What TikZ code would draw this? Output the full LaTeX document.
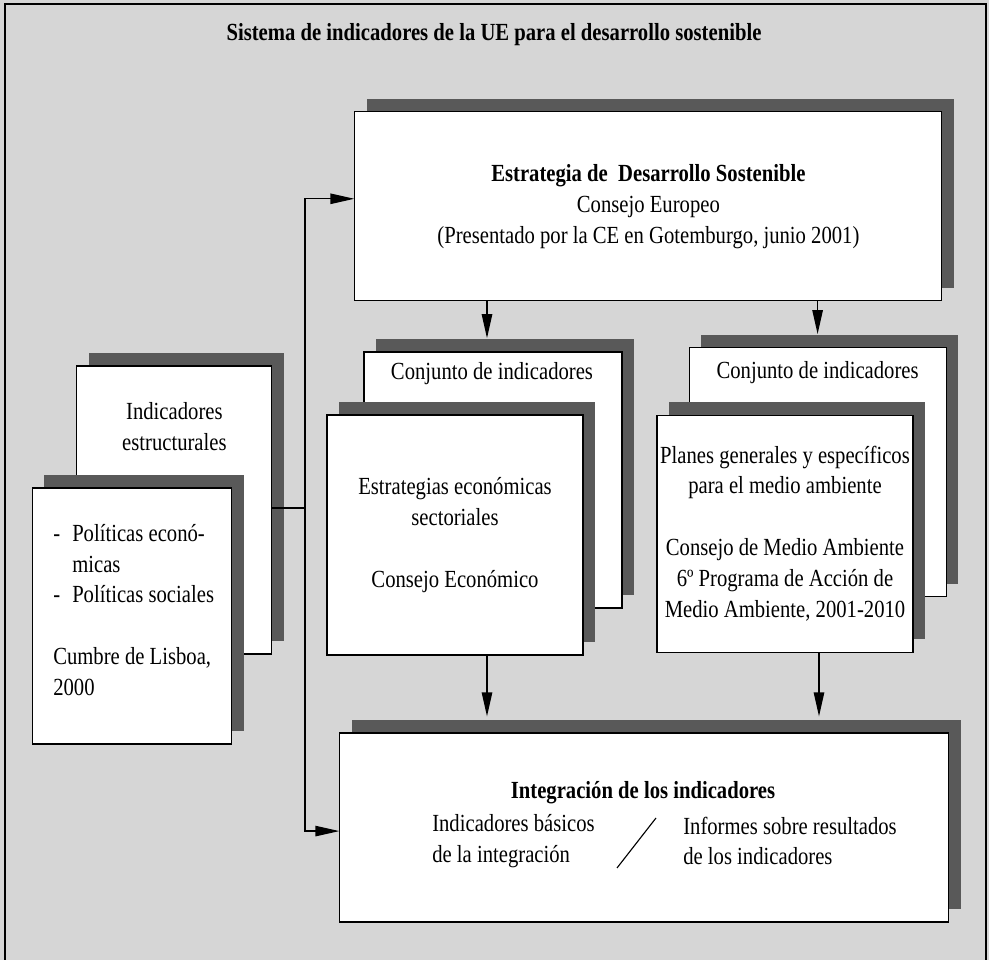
\documentclass[tikz,border=0pt]{standalone}
\usepackage{fontspec}
\setmainfont{Liberation Serif}[FakeStretch=0.84]
\usepackage{xcolor}
\usetikzlibrary{arrows.meta, positioning, calc, shadows}
\definecolor{panelgray}{HTML}{D6D6D6}
\definecolor{shadowgray}{HTML}{595959}

\begin{document}
\begin{tikzpicture}[
    box/.style={draw=black, line width=0.8pt, fill=white, inner sep=0pt, align=center, font=\fontsize{17.5}{22}\selectfont,
        drop shadow={shadow xshift=0.29cm, shadow yshift=0.33cm, fill=shadowgray, opacity=1}},
    txt/.style={inner sep=0pt, align=center, font=\fontsize{17.5}{22}\selectfont},
    arrow/.style={-{Triangle[length=0.6cm, width=0.26cm]}, line width=1pt},
    link/.style={line width=1pt}
]
    \useasboundingbox (0,0) rectangle (24.725,24);
    \fill[panelgray] (0,0) rectangle (24.725,24);
    \draw[line width=1.5pt] (0.125,-0.1) rectangle (24.65,23.9);

    % Title
    \node[txt, font=\bfseries\fontsize{17.5}{22}\selectfont] (title) at (12.35,23.125) {Sistema de indicadores de la UE para el desarrollo sostenible};

    % Strategy
    \node[box, minimum width=14.675cm, minimum height=4.725cm] (strategy) at (16.21,18.84)
        {\textbf{Estrategia de~ Desarrollo Sostenible}\\Consejo Europeo\\(Presentado por la CE en Gotemburgo, junio 2001)};

    % Structural indicators
    \node[box, minimum width=4.875cm, minimum height=7.2cm] (estruct) at (4.36,11.25) {};
    \node[txt] (estructtxt) at (4.36,13.325) {Indicadores\\estructurales};
    \node[box, minimum width=4.975cm, minimum height=6.4cm] (lisboa) at (3.31,8.6) {};
    \node[txt, align=left, anchor=west] (lisboatxt) at (1.325,8.75)
        {\makebox[13.5pt][l]{-}Políticas econó-\\\makebox[13.5pt][l]{}micas\\\makebox[13.5pt][l]{-}Políticas sociales\\[22pt]Cumbre de Lisboa,\\2000};

    % Economic column
    \node[box, minimum width=6.45cm, minimum height=6.4cm] (conjecon) at (12.325,12.0) {};
    \node[txt] (conjecontxt) at (12.3,14.65) {Conjunto de indicadores};
    \node[box, minimum width=6.4cm, minimum height=6.0cm] (econ) at (11.375,10.625)
        {Estrategias económicas\\sectoriales\\[22pt]Consejo Económico};

    % Environment column
    \node[box, minimum width=6.425cm, minimum height=6.225cm] (conjamb) at (20.44,12.19) {};
    \node[txt] (conjambtxt) at (20.44,14.675) {Conjunto de indicadores};
    \node[box, minimum width=6.4cm, minimum height=5.925cm] (ambiente) at (19.625,10.66)
        {Planes generales y específicos\\para el medio ambiente\\[22pt]Consejo de Medio Ambiente\\6º Programa de Acción de\\Medio Ambiente, 2001-2010};

    % Integration
    \node[box, minimum width=15.225cm, minimum height=4.725cm] (integr) at (16.11,3.3125) {};
    \node[txt, font=\bfseries\fontsize{17.5}{22}\selectfont] (integrtitle) at (16.075,4.175) {Integración de los indicadores};
    \node[txt, align=left, anchor=west] (basicos) at (10.8,2.975) {Indicadores básicos\\de la integración};
    \node[txt, align=left, anchor=west] (informes) at (17.075,2.975) {Informes sobre resultados\\de los indicadores};
    \draw[line width=0.8pt] (15.425,2.3) -- (16.4,3.55);

    % Connectors
    \coordinate (trunk) at (7.625,11.3);
    \draw[link] (estruct.east |- trunk) -- (trunk);
    \draw[arrow] (trunk) |- ([yshift=0.19cm]strategy.west);
    \draw[arrow] (trunk) |- ([yshift=-0.09cm]integr.west);
    \draw[arrow] ([xshift=-0.15cm]conjecon.north |- strategy.south) -- ([xshift=-0.15cm, yshift=0.33cm]conjecon.north);
    \draw[arrow] (conjamb.north |- strategy.south) -- ([yshift=0.33cm]conjamb.north);
    \draw[arrow] ([xshift=0.8cm]econ.south) -- ([xshift=0.8cm, yshift=0.4cm]econ.south |- integr.north);
    \draw[arrow] ([xshift=0.85cm]ambiente.south) -- ([xshift=0.85cm, yshift=0.4cm]ambiente.south |- integr.north);
\end{tikzpicture}
\end{document}
